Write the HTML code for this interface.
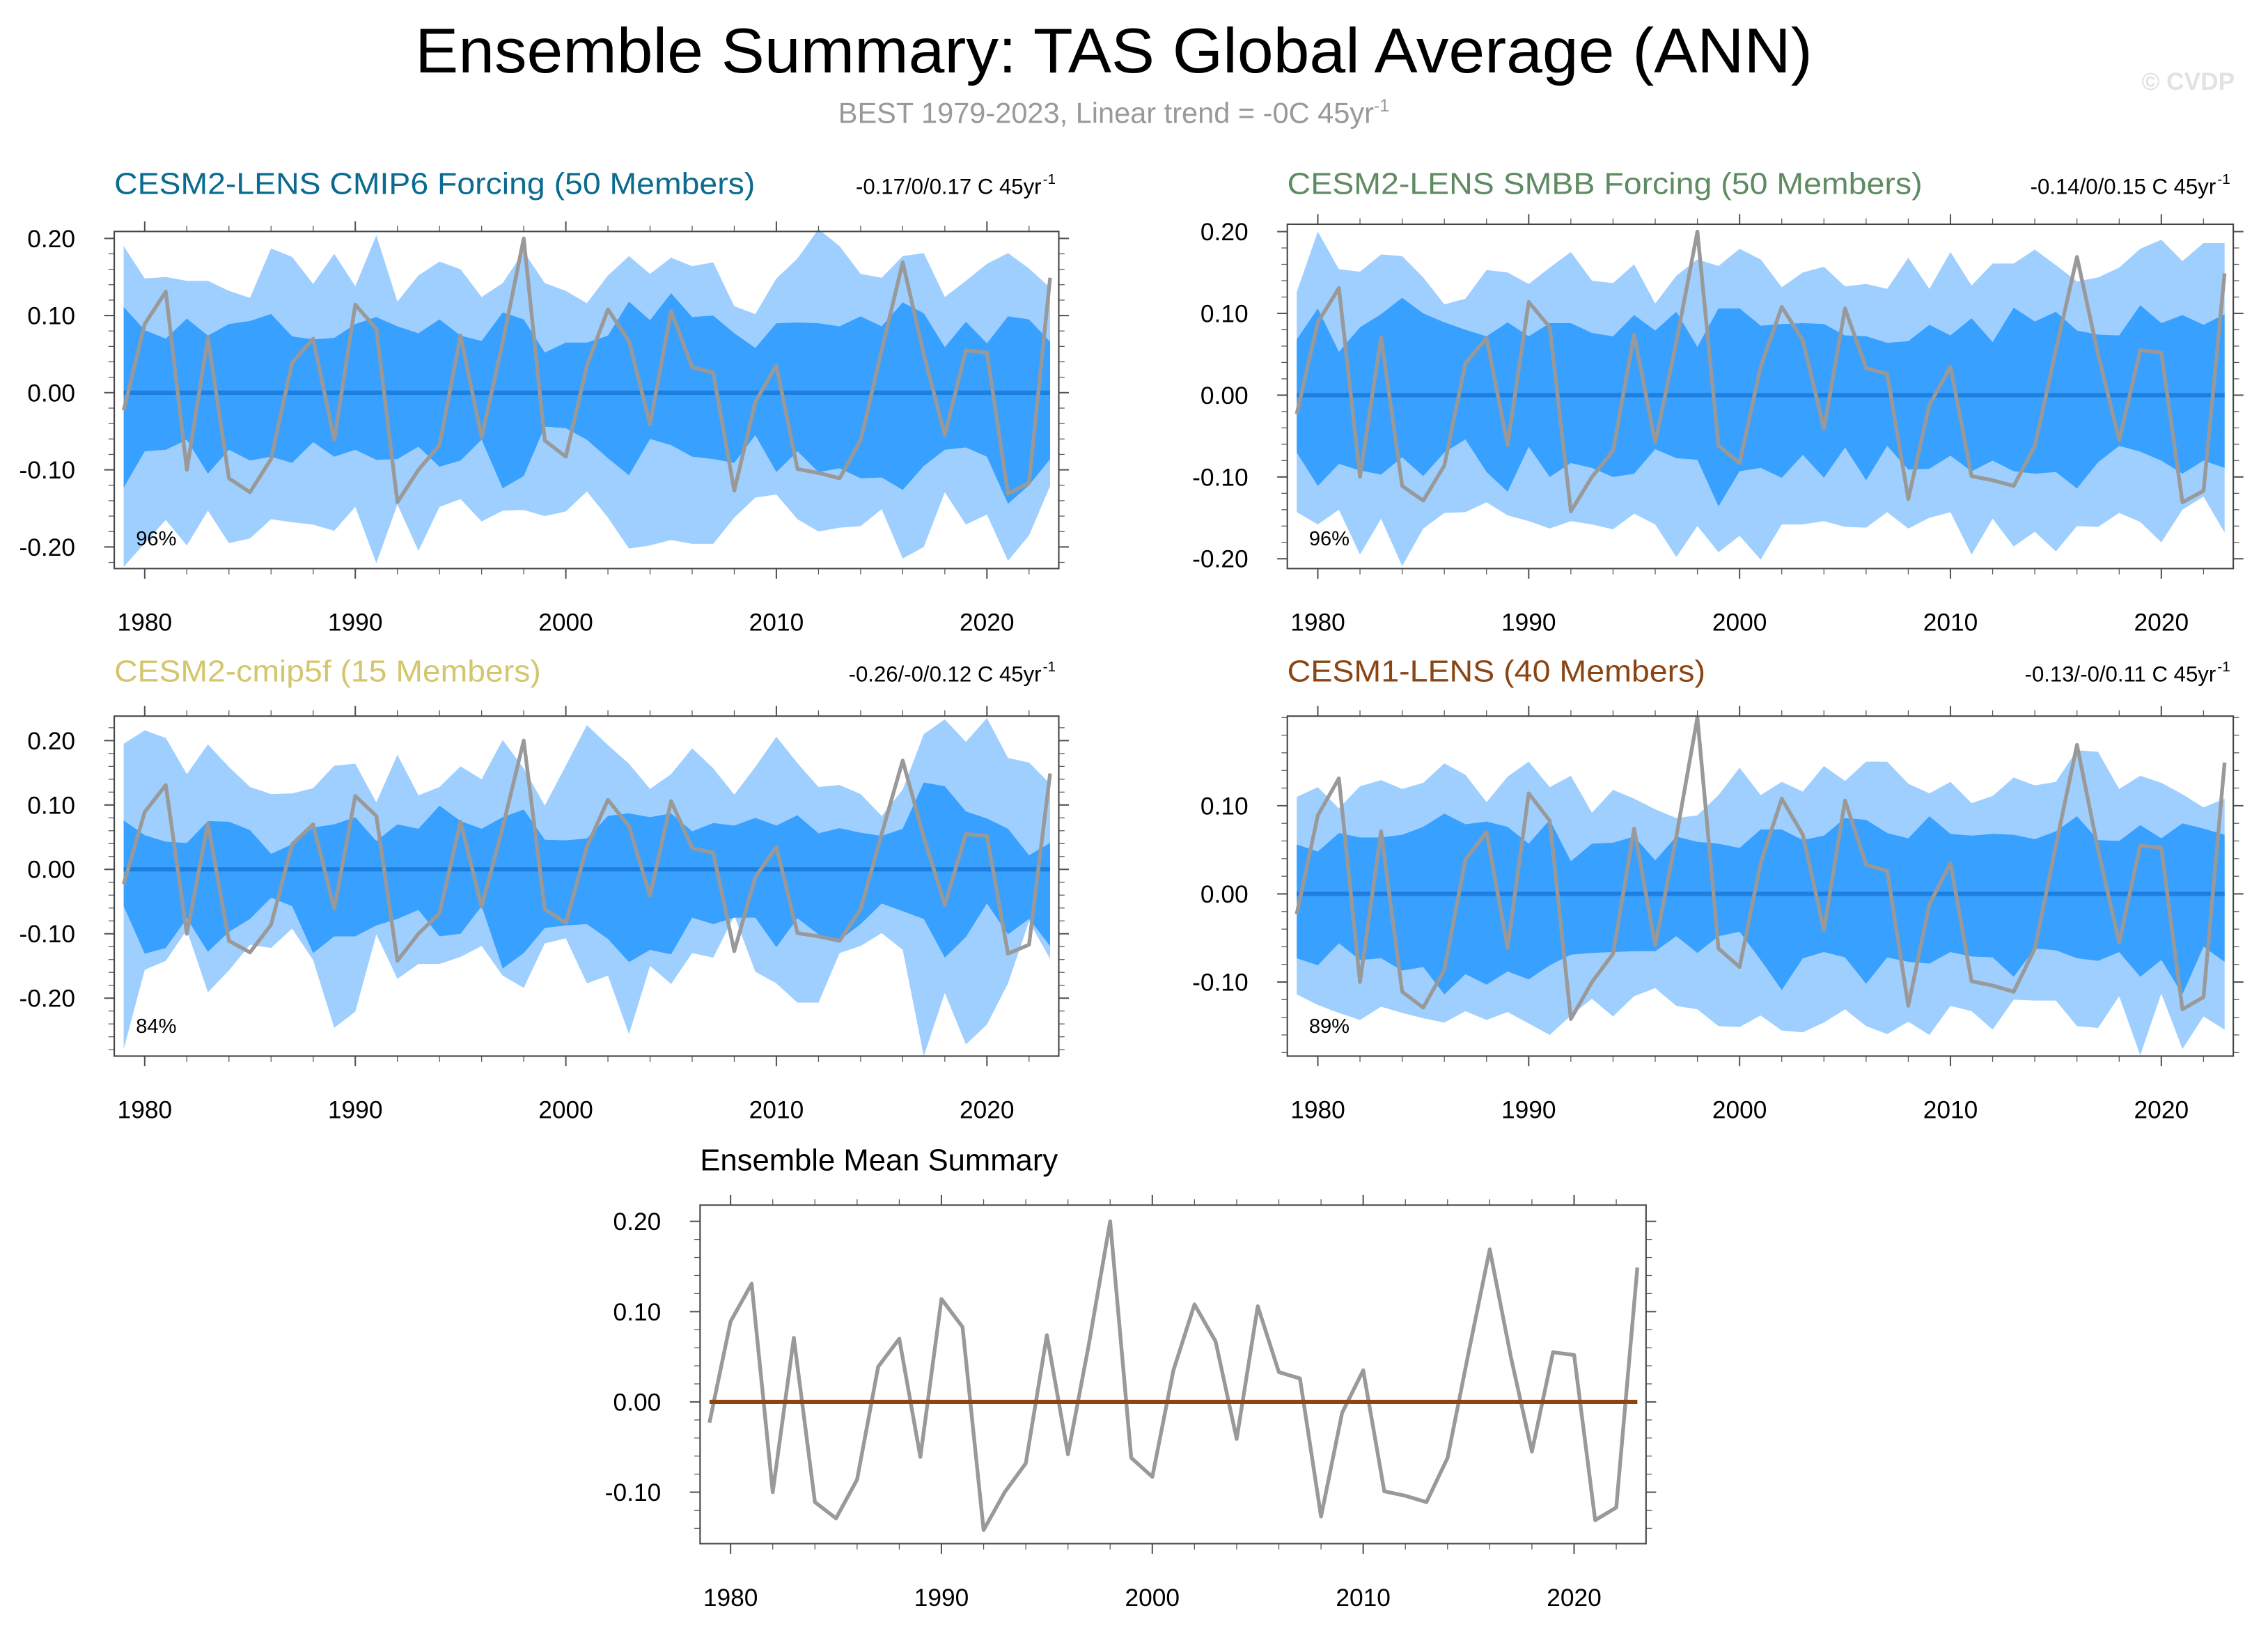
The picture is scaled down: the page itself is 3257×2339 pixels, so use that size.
<!DOCTYPE html>
<html><head><meta charset="utf-8"><title>Ensemble Summary: TAS Global Average (ANN)</title>
<style>html,body{margin:0;padding:0;background:#fff}svg{display:block}text{font-family:"Liberation Sans",sans-serif}</style>
</head><body>
<svg id="chart" xmlns="http://www.w3.org/2000/svg" width="3257" height="2339" viewBox="0 0 1568 1126" preserveAspectRatio="none">
<text x="770" y="50" font-size="44" text-anchor="middle" textLength="966" lengthAdjust="spacingAndGlyphs">Ensemble Summary: TAS Global Average (ANN)</text>
<text x="770" y="85" font-size="20" fill="#999" text-anchor="middle">BEST 1979-2023, Linear trend = -0C 45yr<tspan dy="-8" font-size="12">-1</tspan></text>
<text x="1545" y="62" font-size="17" fill="#e2e2e2" text-anchor="end" font-weight="bold">© CVDP</text>
<g id="panels"></g>
</svg>
<script>
const years = [];for(let y=1979;y<=2023;y++)years.push(y);
const obs = [-0.023,0.089,0.131,-0.100,0.071,-0.111,-0.129,-0.086,0.039,0.070,-0.061,0.114,0.083,-0.142,-0.100,-0.068,0.074,-0.058,0.065,0.200,-0.062,-0.083,0.035,0.108,0.067,-0.041,0.106,0.033,0.026,-0.127,-0.012,0.035,-0.099,-0.104,-0.111,-0.062,0.055,0.169,0.050,-0.055,0.055,0.052,-0.131,-0.117,0.149];

const p1OuterHi = [.190,.148,.150,.145,.145,.132,.123,.187,.176,.141,.180,.138,.204,.118,.152,.170,.160,.124,.142,.183,.142,.132,.116,.152,.177,.154,.175,.164,.169,.112,.102,.148,.174,.212,.190,.154,.149,.177,.181,.124,.145,.167,.181,.161,.136];
const p1InnerHi = [.111,.081,.070,.096,.074,.089,.093,.102,.073,.069,.071,.089,.098,.086,.077,.095,.074,.067,.104,.095,.052,.065,.065,.074,.118,.094,.129,.098,.100,.077,.058,.090,.091,.090,.086,.099,.086,.117,.103,.059,.092,.064,.099,.095,.066];
const p1InnerLo = [-.123,-.076,-.074,-.061,-.105,-.074,-.088,-.083,-.091,-.064,-.083,-.074,-.087,-.086,-.070,-.096,-.088,-.061,-.124,-.108,-.044,-.046,-.061,-.085,-.107,-.060,-.068,-.083,-.086,-.091,-.055,-.103,-.076,-.103,-.098,-.111,-.110,-.126,-.095,-.074,-.071,-.083,-.144,-.120,-.086];
const p1OuterLo = [-.226,-.195,-.165,-.198,-.153,-.195,-.189,-.164,-.168,-.171,-.179,-.148,-.221,-.145,-.205,-.148,-.138,-.167,-.153,-.152,-.160,-.154,-.128,-.162,-.202,-.198,-.191,-.196,-.196,-.162,-.136,-.132,-.164,-.180,-.175,-.173,-.151,-.215,-.200,-.129,-.171,-.158,-.218,-.185,-.121];

const p2OuterHi = [.126,.200,.154,.151,.172,.170,.144,.111,.118,.153,.150,.136,.156,.175,.140,.137,.160,.112,.146,.166,.158,.179,.166,.132,.150,.157,.133,.136,.130,.168,.130,.175,.134,.161,.161,.178,.159,.139,.144,.156,.179,.190,.164,.186,.186];
const p2InnerHi = [.068,.106,.053,.083,.099,.119,.100,.089,.080,.072,.089,.072,.088,.088,.076,.072,.098,.079,.102,.059,.106,.106,.085,.087,.088,.087,.073,.072,.064,.066,.086,.073,.094,.065,.107,.090,.102,.079,.074,.073,.110,.088,.098,.086,.099];
const p2InnerLo = [-.070,-.111,-.084,-.092,-.097,-.076,-.099,-.070,-.054,-.094,-.118,-.063,-.100,-.083,-.089,-.100,-.096,-.066,-.077,-.079,-.136,-.093,-.089,-.101,-.073,-.101,-.064,-.104,-.062,-.091,-.090,-.074,-.093,-.080,-.093,-.096,-.094,-.114,-.082,-.062,-.069,-.080,-.096,-.080,-.089];
const p2OuterLo = [-.143,-.158,-.140,-.195,-.151,-.209,-.163,-.144,-.143,-.131,-.147,-.154,-.163,-.154,-.158,-.164,-.145,-.158,-.198,-.160,-.192,-.172,-.201,-.158,-.158,-.154,-.161,-.162,-.143,-.163,-.150,-.143,-.195,-.151,-.185,-.167,-.191,-.160,-.161,-.144,-.155,-.180,-.140,-.124,-.168];

const p3OuterHi = [.195,.216,.204,.148,.194,.159,.128,.117,.118,.126,.161,.164,.104,.178,.115,.128,.160,.140,.201,.157,.099,.161,.224,.193,.164,.125,.148,.188,.157,.116,.159,.206,.165,.128,.131,.117,.083,.124,.210,.233,.198,.235,.173,.166,.133];
const p3InnerHi = [.076,.053,.043,.041,.075,.074,.061,.024,.039,.065,.070,.081,.044,.070,.063,.099,.075,.063,.081,.093,.046,.045,.048,.083,.087,.081,.087,.059,.072,.068,.080,.068,.084,.056,.064,.057,.052,.063,.135,.129,.090,.079,.063,.022,.041];
const p3InnerLo = [-.057,-.131,-.122,-.076,-.128,-.097,-.077,-.044,-.057,-.130,-.104,-.104,-.087,-.077,-.063,-.104,-.100,-.057,-.154,-.130,-.091,-.087,-.085,-.108,-.144,-.125,-.132,-.075,-.085,-.075,-.075,-.121,-.076,-.101,-.110,-.085,-.053,-.065,-.077,-.137,-.105,-.053,-.101,-.077,-.119];
const p3OuterLo = [-.279,-.156,-.142,-.094,-.191,-.157,-.117,-.122,-.092,-.141,-.246,-.221,-.101,-.170,-.147,-.147,-.136,-.119,-.165,-.184,-.115,-.107,-.177,-.165,-.256,-.150,-.178,-.130,-.137,-.072,-.159,-.177,-.207,-.207,-.130,-.119,-.099,-.125,-.290,-.192,-.272,-.241,-.177,-.081,-.139];

const p4OuterHi = [.110,.121,.097,.122,.129,.119,.126,.148,.135,.104,.133,.150,.121,.134,.092,.118,.108,.096,.086,.089,.112,.143,.112,.127,.116,.145,.128,.150,.150,.125,.114,.127,.103,.111,.132,.123,.127,.163,.161,.119,.134,.126,.113,.098,.108];
const p4InnerHi = [.056,.048,.069,.064,.064,.067,.076,.091,.079,.082,.076,.057,.084,.037,.057,.058,.065,.038,.065,.059,.057,.052,.073,.073,.061,.066,.086,.084,.069,.063,.088,.068,.066,.068,.067,.062,.071,.088,.061,.060,.078,.063,.080,.074,.067];
const p4InnerLo = [-.073,-.081,-.056,-.075,-.073,-.087,-.083,-.114,-.091,-.103,-.088,-.097,-.081,-.069,-.067,-.066,-.065,-.065,-.048,-.067,-.048,-.043,-.075,-.109,-.073,-.066,-.072,-.102,-.072,-.077,-.079,-.066,-.071,-.072,-.094,-.062,-.064,-.073,-.076,-.066,-.094,-.075,-.114,-.060,-.077];
const p4OuterLo = [-.114,-.126,-.135,-.143,-.128,-.135,-.141,-.146,-.133,-.143,-.134,-.147,-.160,-.138,-.119,-.139,-.116,-.107,-.127,-.131,-.150,-.151,-.138,-.155,-.157,-.146,-.131,-.150,-.159,-.145,-.160,-.127,-.133,-.154,-.120,-.121,-.121,-.150,-.152,-.116,-.183,-.113,-.176,-.139,-.154];

const ensMean = 0.0;
const xTicks = [1980,1990,2000,2010,2020];

const NS="http://www.w3.org/2000/svg";
const root=document.getElementById('panels');
function mk(tag,attrs,parent){const e=document.createElementNS(NS,tag);for(const k in attrs)e.setAttribute(k,attrs[k]);(parent||root).appendChild(e);return e;}

const panels=[
 {name:'cesm2-lens-cmip6',title:'CESM2-LENS CMIP6 Forcing (50 Members)',tcol:'#0b6a8f',tlen:443,trend:'-0.17/0/0.17 C 45yr',pct:'96%',x0:79,x1:732,yt:160,yb:393,ymax:.209,ymin:-.228,yticks:[.2,.1,0,-.1,-.2],oh:p1OuterHi,ih:p1InnerHi,il:p1InnerLo,ol:p1OuterLo,titleY:134,xlabY:436},
 {name:'cesm2-lens-smbb',title:'CESM2-LENS SMBB Forcing (50 Members)',tcol:'#5f8b62',tlen:439,trend:'-0.14/0/0.15 C 45yr',pct:'96%',x0:890,x1:1544,yt:155,yb:393,ymax:.209,ymin:-.212,yticks:[.2,.1,0,-.1,-.2],oh:p2OuterHi,ih:p2InnerHi,il:p2InnerLo,ol:p2OuterLo,titleY:134,xlabY:436},
 {name:'cesm2-cmip5f',title:'CESM2-cmip5f (15 Members)',tcol:'#d3c66e',tlen:295,trend:'-0.26/-0/0.12 C 45yr',pct:'84%',x0:79,x1:732,yt:495,yb:730,ymax:.238,ymin:-.290,yticks:[.2,.1,0,-.1,-.2],oh:p3OuterHi,ih:p3InnerHi,il:p3InnerLo,ol:p3OuterLo,titleY:471,xlabY:773},
 {name:'cesm1-lens',title:'CESM1-LENS (40 Members)',tcol:'#8b4513',tlen:289,trend:'-0.13/-0/0.11 C 45yr',pct:'89%',x0:890,x1:1544,yt:495,yb:730,ymax:.2016,ymin:-.184,yticks:[.1,0,-.1],oh:p4OuterHi,ih:p4InnerHi,il:p4InnerLo,ol:p4OuterLo,titleY:471,xlabY:773}
];

function axes(P,g){
  const xs=yr=>P.x0+6.5+(yr-1979)*(P.x1-P.x0-12.5)/44;
  const ys=v=>P.yt+(P.ymax-v)/(P.ymax-P.ymin)*(P.yb-P.yt);
  return [xs,ys];
}
function drawFrame(P,g,xs,ys){
  // y ticks
  for(let v=Math.ceil(P.ymin/0.02)*0.02;v<=P.ymax+1e-9;v+=0.02){
    const vv=Math.round(v*100)/100;
    const major=P.yticks.some(t=>Math.abs(t-vv)<1e-6);
    const L=major?7:4;const yy=ys(vv);
    mk('line',{x1:P.x0-L,x2:P.x0,y1:yy,y2:yy,stroke:'#555','stroke-width':major?1:0.6},g);
    mk('line',{x1:P.x1,x2:P.x1+L,y1:yy,y2:yy,stroke:'#555','stroke-width':major?1:0.6},g);
  }
  P.yticks.forEach(t=>{
    const lab=mk('text',{x:P.x0-27,y:ys(t)+6,'font-size':17,'text-anchor':'end'},g);
    lab.textContent=t.toFixed(2);
    
    
  });
  for(let yr=1978;yr<=2024;yr+=2){
    const major=yr%10===0;const L=major?7:4;const xx=xs(yr);
    if(xx<P.x0||xx>P.x1)continue;
    mk('line',{x1:xx,x2:xx,y1:P.yt-L,y2:P.yt,stroke:'#555','stroke-width':major?1:0.6},g);
    mk('line',{x1:xx,x2:xx,y1:P.yb,y2:P.yb+L,stroke:'#555','stroke-width':major?1:0.6},g);
  }
  xTicks.forEach(t=>{
    const lab=mk('text',{x:xs(t),y:P.xlabY,'font-size':17,'text-anchor':'middle'},g);
    lab.textContent=String(t);
    
    
  });
  const fr=mk('rect',{x:P.x0,y:P.yt,width:P.x1-P.x0,height:P.yb-P.yt,fill:'none',stroke:'#444','stroke-width':1},g);
  
  
}
function band(hi,lo,xs,ys,fill,g,name){
  let d='M'+years.map((y,i)=>xs(y).toFixed(2)+','+ys(hi[i]).toFixed(2)).join('L');
  d+='L'+years.slice().reverse().map((y,j)=>{const i=years.length-1-j;return xs(y).toFixed(2)+','+ys(lo[i]).toFixed(2);}).join('L')+'Z';
  const p=mk('path',{d:d,fill:fill,stroke:'none'},g);
  
  
}
function line(vals,xs,ys,col,w,g,name){
  const d='M'+years.map((y,i)=>xs(y).toFixed(2)+','+ys(vals[i]).toFixed(2)).join('L');
  const p=mk('path',{d:d,fill:'none',stroke:col,'stroke-width':w,'stroke-linejoin':'round'},g);
  
  
}

panels.forEach(P=>{
  const g=mk('g',{});
  
  
  const [xs,ys]=axes(P,g);
  band(P.oh,P.ol,xs,ys,'#9fcfff',g,'outer-range-band');
  band(P.ih,P.il,xs,ys,'#38a0ff',g,'inner-range-band');
  line(years.map(()=>ensMean),xs,ys,'#1f7fde',3,g,'ensemble-mean-line');
  line(obs,xs,ys,'#999999',2.6,g,'observed-line');
  drawFrame(P,g,xs,ys);
  const t=mk('text',{x:P.x0,y:P.titleY,'font-size':21,fill:P.tcol,textLength:P.tlen,lengthAdjust:'spacingAndGlyphs'},g);
  t.textContent=P.title;
  
  
  const tr=mk('text',{x:P.x1-12,y:P.titleY,'font-size':15,'text-anchor':'end'},g);
  tr.textContent=P.trend;
  
  
  const sup=mk('text',{x:P.x1-11,y:P.titleY-7,'font-size':10},g);
  sup.textContent='-1';
  
  
  const pc=mk('text',{x:P.x0+15,y:P.yb-16,'font-size':14},g);
  pc.textContent=P.pct;
  
  
});

// bottom summary panel
const B={x0:484,x1:1138,yt:833,yb:1067,ymax:.218,ymin:-.157,yticks:[.2,.1,0,-.1],xlabY:1110};
const gb=mk('g',{});


const [bxs,bys]=axes(B,gb);
line(obs,bxs,bys,'#999999',2.6,gb,'observed-line');
line(years.map(()=>ensMean),bxs,bys,'#8b4513',3,gb,'ensemble-mean-line');
drawFrame(B,gb,bxs,bys);
const bt=mk('text',{x:484,y:809,'font-size':21},gb);
bt.textContent='Ensemble Mean Summary';


</script>
</body></html>
